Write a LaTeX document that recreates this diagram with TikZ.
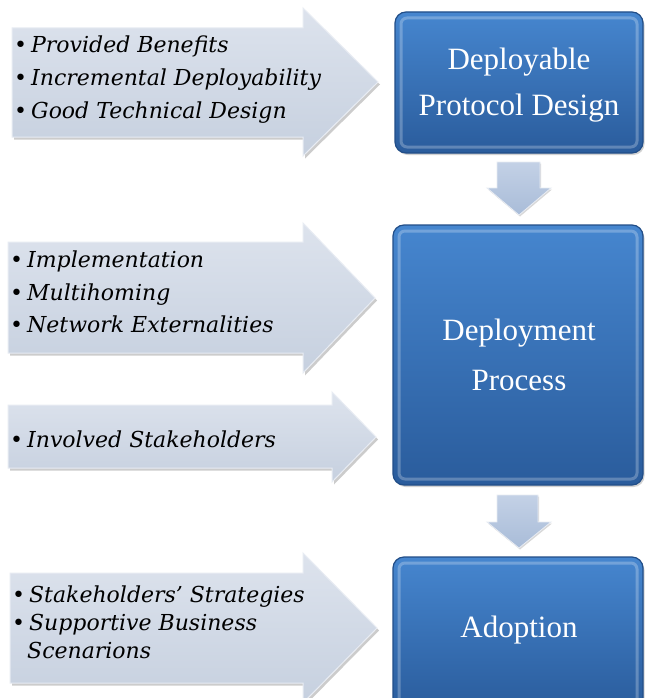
\documentclass[tikz,border=0pt]{standalone}
\usepackage{fontspec}
\setmainfont{DejaVu Serif}
\newfontfamily\boxfont{Liberation Serif}
\usetikzlibrary{shadows}
\definecolor{boxtop}{HTML}{4686CF}
\definecolor{boxbot}{HTML}{2A5C9C}
\definecolor{boxedge}{HTML}{224E88}
\definecolor{arrtop}{HTML}{DDE3ED}
\definecolor{arrbot}{HTML}{C6D0DF}
\definecolor{arredge}{HTML}{E8ECF3}
\definecolor{downtop}{HTML}{C3D1E6}
\definecolor{downbot}{HTML}{A9BCD8}
\begin{document}
\begin{tikzpicture}[x=1pt,y=-1pt,
  bluebox/.style={rounded corners=11pt, top color=boxtop, bottom color=boxbot, draw=boxedge, line width=1.2pt,
    drop shadow={shadow xshift=1.5pt, shadow yshift=-2pt, opacity=0.35}},
  bevel/.style={rounded corners=6pt, draw=white, opacity=0.25, line width=3pt},
  lightarrow/.style={top color=arrtop, bottom color=arrbot, draw=arredge, line width=1pt,
    drop shadow={shadow xshift=2pt, shadow yshift=-2.5pt, opacity=0.4}},
  downarrow/.style={top color=downtop, bottom color=downbot, draw=arredge, line width=0.8pt,
    drop shadow={shadow xshift=1pt, shadow yshift=-1.5pt, opacity=0.3}},
  item/.style={anchor=base west, inner sep=0pt, font=\fontsize{22}{28}\selectfont},
  boxtext/.style={text=white, font=\boxfont\fontsize{31}{47}\selectfont, align=center}
]
\useasboundingbox (0,0) rectangle (645,698);
\fill[white] (0,0) rectangle (645,698);

% light input arrows
\draw[lightarrow] (12,28) -- (303,28) -- (303,8) -- (378,82) -- (303,156) -- (303,137) -- (12,137) -- cycle;
\draw[lightarrow] (8,242) -- (303,242) -- (303,223) -- (375,298) -- (303,373) -- (303,353) -- (8,353) -- cycle;
\draw[lightarrow] (8,405) -- (332,405) -- (332,392) -- (376,437) -- (332,482) -- (332,468) -- (8,468) -- cycle;
\draw[lightarrow] (10,573) -- (303,573) -- (303,553) -- (377,628) -- (303,703) -- (303,683) -- (10,683) -- cycle;

% down arrows
\draw[downarrow] (497,162) -- (540,162) -- (540,188) -- (551,188) -- (519,215) -- (487,188) -- (497,188) -- cycle;
\draw[downarrow] (497,495) -- (538,495) -- (538,522) -- (551,522) -- (519,548) -- (487,522) -- (497,522) -- cycle;

% blue boxes
\draw[bluebox] (395,12) rectangle (643,153);
\draw[bevel] (401,18) rectangle (637,147);
\draw[bluebox] (393,225) rectangle (643,485);
\draw[bevel] (399,231) rectangle (637,479);
\draw[bluebox] (393,557) rectangle (643,710);
\draw[bevel] (399,563) rectangle (637,704);

\node[boxtext] (b1a) at (519,62) {Deployable};
\node[boxtext] (b1b) at (519,108) {Protocol Design};
\node[boxtext] (b2a) at (519,333) {Deployment};
\node[boxtext] (b2b) at (519,380) {Process};
\node[boxtext] (b3) at (519,630) {Adoption};

% items
\node[item] (p1) at (14,53) {•\hspace{4pt}\textit{Provided Benefits}};
\node[item] (p2) at (14,86) {•\hspace{4pt}\textit{Incremental Deployability}};
\node[item] (p3) at (14,118) {•\hspace{4pt}\textit{Good Technical Design}};
\node[item] (q1) at (10,267) {•\hspace{4pt}\textit{Implementation}};
\node[item] (q2) at (10,300) {•\hspace{4pt}\textit{Multihoming}};
\node[item] (q3) at (10,332) {•\hspace{4pt}\textit{Network Externalities}};
\node[item] (r1) at (10,447) {•\hspace{4pt}\textit{Involved Stakeholders}};
\node[item] (s1) at (12,602) {•\hspace{4pt}\textit{Stakeholders' Strategies}};
\node[item] (s2) at (12,630) {•\hspace{4pt}\textit{Supportive Business}};
\node[item] (s3) at (27,658) {\textit{Scenarions}};
\end{tikzpicture}
\end{document}
